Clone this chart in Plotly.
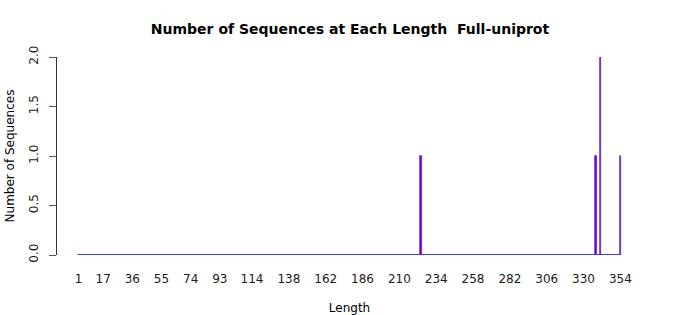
import plotly.graph_objects as go

lengths = list(range(1, 355))
nonzero_lengths = [224, 338, 341, 354]
nonzero_counts = [1, 1, 2, 1]
counts = [nonzero_counts[nonzero_lengths.index(L)] if L in nonzero_lengths else 0 for L in lengths]
tick_labels = [1, 17, 36, 55, 74, 93, 114, 138, 162, 186, 210, 234, 258, 282, 306, 330, 354]
y_ticks = [0.0, 0.5, 1.0, 1.5, 2.0]

FONT = "DejaVu Sans"

fig = go.Figure()
# zero-height bars drawn as a baseline (R barplot borders)
fig.add_trace(go.Scatter(
    x=[lengths[0] - 0.5, lengths[-1] + 0.5], y=[0, 0], mode="lines",
    line=dict(color="#3535e8", width=1.3), hoverinfo="skip", showlegend=False,
    cliponaxis=False,
))
fig.add_trace(go.Bar(
    x=lengths, y=counts, width=1.0,
    marker=dict(color="#8a00b0", line=dict(color="#4a1ee0", width=0.7)),
    showlegend=False, cliponaxis=False,
))

fig.update_layout(
    width=700, height=315,
    margin=dict(l=57, r=58, t=57, b=60, autoexpand=False),
    paper_bgcolor="white", plot_bgcolor="white",
    font=dict(family=FONT, size=12, color="black"),
    bargap=0,
    title=dict(text="<b>Number of Sequences at Each Length  Full-uniprot</b>",
               x=0.5, xanchor="center", y=1 - 29 / 315, yanchor="middle",
               font=dict(family=FONT, size=14, color="black")),
    xaxis=dict(
        range=[-13.1, 368.1], showgrid=False, zeroline=False, showline=False,
        automargin=False,
        tickmode="array", tickvals=tick_labels, ticktext=[str(t) for t in tick_labels],
        ticks="outside", ticklen=13, tickcolor="rgba(0,0,0,0)",
        tickfont=dict(family=FONT, size=12, color="#1a1a1a"),
        title=dict(text="Length", standoff=18, font=dict(family=FONT, size=12)),
    ),
    yaxis=dict(
        range=[0, 2], showgrid=False, zeroline=False, automargin=False,
        showline=True, linecolor="#333333", linewidth=1,
        tickmode="array", tickvals=y_ticks, ticktext=["0.0", "0.5", "1.0", "1.5", "2.0"],
        ticks="outside", ticklen=7, tickcolor="#555555", tickwidth=1,
        tickangle=-90, ticklabelstandoff=6,
        tickfont=dict(family=FONT, size=12, color="#1a1a1a"),
        title=dict(text="Number of Sequences", standoff=10, font=dict(family=FONT, size=12)),
    ),
)

fig.write_html("out.html")
